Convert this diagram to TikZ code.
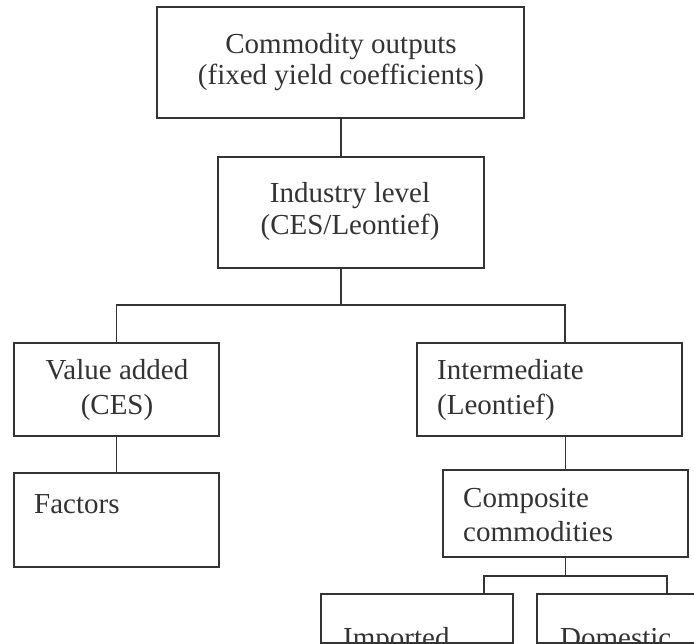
\documentclass[tikz,border=0pt]{standalone}
\usepackage{fontspec}
\setmainfont{Liberation Serif}
\begin{document}
\begin{tikzpicture}[x=1pt,y=-1pt,
  box/.style={draw=black!80, line width=1.7pt, rectangle, inner sep=0pt, outer sep=0pt},
  txt/.style={text=black!80, inner sep=0pt, font=\fontsize{29}{32}\selectfont},
  link/.style={draw=black!80, line width=1.7pt}]
\useasboundingbox (0,0) rectangle (694,644);
\clip (0,0) rectangle (694,644);
\fill[white] (0,0) rectangle (694,644);

% boxes
\node[box, minimum width=367pt, minimum height=111pt] (top)  at (340.5,62.5) {};
\node[box, minimum width=266pt, minimum height=111pt] (ind)  at (351,212.5) {};
\node[box, minimum width=205pt, minimum height=93pt]  (va)   at (116.5,389.5) {};
\node[box, minimum width=205pt, minimum height=94pt]  (fac)  at (116.5,520) {};
\node[box, minimum width=265pt, minimum height=93pt]  (int)  at (549.5,389.5) {};
\node[box, minimum width=245pt, minimum height=87pt]  (comp) at (565.5,513.5) {};
\node[box, minimum width=192pt, minimum height=49pt]  (imp)  at (417,618.5) {};
\node[box, minimum width=183pt, minimum height=49pt]  (dom)  at (628.5,618.5) {};

% labels
\node[txt, anchor=base] (t1a) at (341,54) {Commodity outputs};
\node[txt, anchor=base] (t1b) at (341,85) {(fixed yield coefficients)};
\node[txt, anchor=base] (t2a) at (350,203) {Industry level};
\node[txt, anchor=base] (t2b) at (350,235) {(CES/Leontief)};
\node[txt, anchor=base] (t3a) at (117,380) {Value added};
\node[txt, anchor=base] (t3b) at (117,414) {(CES)};
\node[txt, anchor=base west] (t4a) at (437,380) {Intermediate};
\node[txt, anchor=base west] (t4b) at (437,414) {(Leontief)};
\node[txt, anchor=base west] (t5)  at (34,513) {Factors};
\node[txt, anchor=base west] (t6a) at (463,507) {Composite};
\node[txt, anchor=base west] (t6b) at (463,541) {commodities};
\node[txt, anchor=base west] (t7)  at (343,647) {Imported};
\node[txt, anchor=base west] (t8)  at (560,647) {Domestic};

% connectors
\coordinate (split) at (341,305);
\coordinate (splitL) at (116.5,305);
\coordinate (splitR) at (565,305);
\coordinate (fork)  at (565.5,576);
\coordinate (forkL) at (484,576);
\coordinate (forkR) at (667,576);

\draw[link] (top.south -| split) -- (ind.north -| split);
\draw[link] (ind.south -| split) -- (split);
\draw[link] (va.north) -- (splitL) -- (splitR) -- (int.north -| splitR);
\draw[link] (va.south) -- (fac.north);
\draw[link] (int.south -| comp.north) -- (comp.north);
\draw[link] (comp.south) -- (fork);
\draw[link] (imp.north -| forkL) -- (forkL) -- (forkR) -- (dom.north -| forkR);
\end{tikzpicture}
\end{document}
